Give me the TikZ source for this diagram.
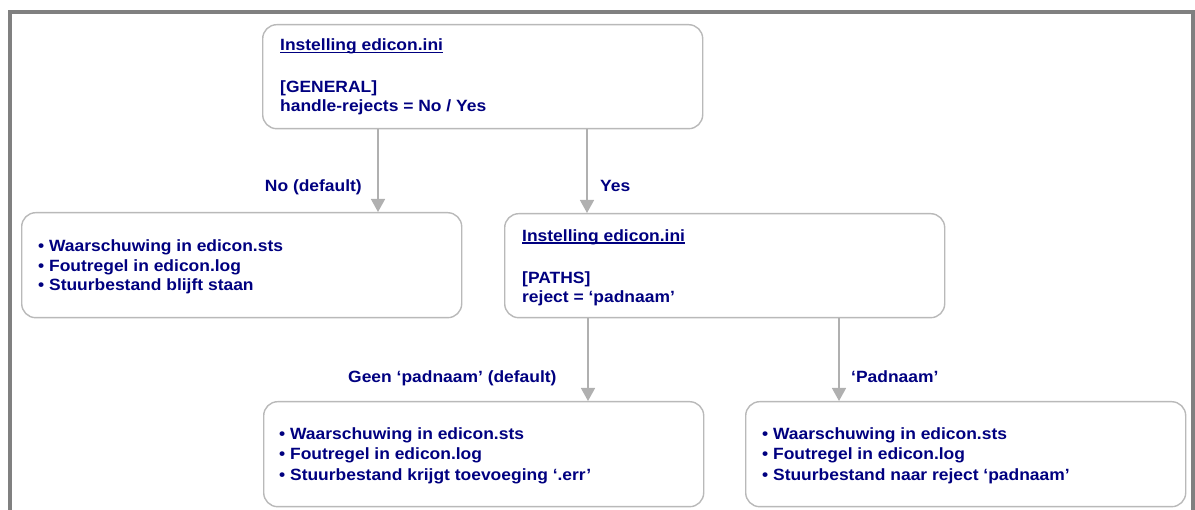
\documentclass[tikz,border=0pt]{standalone}
\usepackage{fontspec}
\setmainfont{Liberation Sans}[FakeStretch=1.07]
\usetikzlibrary{arrows.meta}
\definecolor{navy}{RGB}{0,0,128}
\definecolor{boxgray}{RGB}{185,185,185}
\definecolor{arrgray}{RGB}{176,176,176}
\definecolor{framegray}{RGB}{128,128,128}
\newcommand\myul[1]{\setbox0\hbox{#1}\rlap{\rule[-2.6pt]{\wd0}{1.3pt}}\box0}
\begin{document}
\begin{tikzpicture}[x=1pt,y=-1pt,
 box/.style={draw=boxgray, line width=1.4pt, rounded corners=14pt, fill=white, inner sep=0pt, anchor=north west},
 txt/.style={anchor=base west, inner sep=0pt, text=navy, font=\fontsize{16.3}{19.5}\selectfont\bfseries, align=left},
 txtb/.style={txt, font=\fontsize{16.3}{20.8}\selectfont\bfseries},
 lbl/.style={inner sep=0pt, text=navy, font=\fontsize{16.3}{19.5}\selectfont\bfseries},
 arr/.style={draw=arrgray, line width=1.5pt, -{Triangle[width=14pt,length=13pt]}}
]
\useasboundingbox (0,0) rectangle (1195,510);
\draw[framegray, line width=4pt] (9.5,515) -- (9.5,12) -- (1192.5,12) -- (1192.5,515);

\node[box, minimum width=440pt, minimum height=104pt] (top) at (262,24) {};
\node[box, minimum width=440pt, minimum height=105pt] (left) at (21,212) {};
\node[box, minimum width=440pt, minimum height=104pt] (mid) at (504,213) {};
\node[box, minimum width=440pt, minimum height=105pt] (bl) at (263,401) {};
\node[box, minimum width=440pt, minimum height=105pt] (br) at (745,401) {};

\node[txt] (ttop) at (280,111.7) {\myul{Instelling edicon.ini}\\[22.2pt]{[GENERAL]}\\handle-rejects = No / Yes};
\node[txt] (tleft) at (38,290.7) {• Waarschuwing in edicon.sts\\• Foutregel in edicon.log\\• Stuurbestand blijft staan};
\node[txt] (tmid) at (522,303) {\myul{Instelling edicon.ini}\\[22.8pt]{[PATHS]}\\reject = ‘padnaam’};
\node[txtb] (tbl) at (279,480.7) {• Waarschuwing in edicon.sts\\• Foutregel in edicon.log\\• Stuurbestand krijgt toevoeging ‘.err’};
\node[txtb] (tbr) at (762,480.7) {• Waarschuwing in edicon.sts\\• Foutregel in edicon.log\\• Stuurbestand naar reject ‘padnaam’};

\coordinate (x1) at (378,0);
\coordinate (x2) at (587,0);
\coordinate (x3) at (588,0);
\coordinate (x4) at (839,0);
\draw[arr] (top.south -| x1) -- (left.north -| x1);
\draw[arr] (top.south -| x2) -- (mid.north -| x2);
\draw[arr] (mid.south -| x3) -- (bl.north -| x3);
\draw[arr] (mid.south -| x4) -- (br.north -| x4);

\node[lbl, anchor=base east] (lno) at (362,192) {No (default)};
\node[lbl, anchor=base west] (lyes) at (600,192) {Yes};
\node[lbl, anchor=base west] (lgeen) at (348,383) {Geen ‘padnaam’ (default)};
\node[lbl, anchor=base west] (lpad) at (851,383) {‘Padnaam’};
\end{tikzpicture}
\end{document}
